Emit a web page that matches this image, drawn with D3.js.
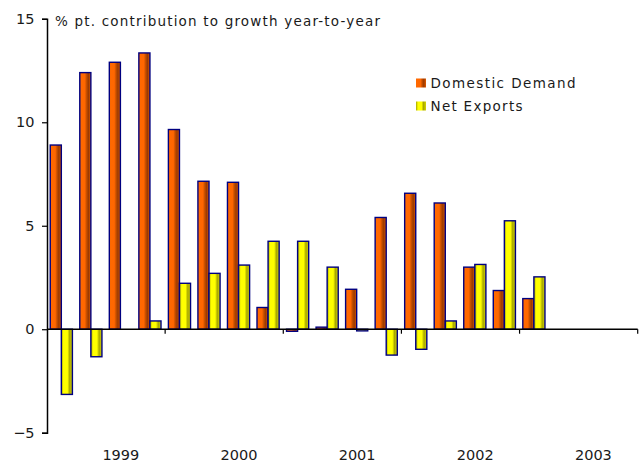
<!DOCTYPE html>
<html>
<head>
<meta charset="utf-8">
<script src="https://cdn.jsdelivr.net/npm/d3@7"></script>
<style>
  html, body { margin: 0; padding: 0; background: #fff; }
  svg { display: block; }
  text { font-family: "DejaVu Sans", Verdana, sans-serif; fill: #1a1a1a; }
</style>
</head>
<body>
<svg id="chart" width="642" height="461"></svg>
<script>
// ---- data ----
const quarters = ["1998Q3","1998Q4","1999Q1","1999Q2","1999Q3","1999Q4","2000Q1","2000Q2",
                  "2000Q3","2000Q4","2001Q1","2001Q2","2001Q3","2001Q4","2002Q1","2002Q2",
                  "2002Q3","2002Q4","2003Q1","2003Q2"];
const domesticDemand = [8.9, 12.4, 12.9, 13.35, 9.65, 7.15, 7.1, 1.05, -0.1, 0.1, 1.93, 5.4, 6.57, 6.1, 3.0, 1.87, 1.48];
const netExports     = [-3.15, -1.33, 0.0, 0.4, 2.22, 2.7, 3.1, 4.25, 4.25, 3.0, -0.08, -1.25, -0.97, 0.4, 3.13, 5.24, 2.53];
const yTicks = [-5, 0, 5, 10, 15];
const yearLabels = ["1999", "2000", "2001", "2002", "2003"];
const yearLabelQuarters = ["1999Q1", "2000Q1", "2001Q1", "2002Q1", "2003Q1"];
const tickQuarters = ["1999Q3", "2000Q3", "2001Q3", "2002Q3"];
const seriesNames = ["Domestic Demand", "Net Exports"];
const yAxisTitle = "% pt. contribution to growth year-to-year";

// ---- layout ----
const svg = d3.select("#chart");
const plotLeft = 47, plotRight = 637.7, plotTop = 18.8, plotBottom = 432.7;

const x = d3.scaleBand().domain(quarters).range([plotLeft, plotRight]).paddingInner(0).paddingOuter(0);
const y = d3.scaleLinear().domain([-5, 15]).range([plotBottom, plotTop]);
const bw = x.bandwidth();

// gradients
const defs = svg.append("defs");
const gO = defs.append("linearGradient").attr("id", "gOrange").attr("x1", 0).attr("x2", 1).attr("y1", 0).attr("y2", 0);
[[0, "#ff6a00"], [0.45, "#ff6600"], [0.62, "#c24d00"], [0.78, "#9c3a00"], [1, "#e05a00"]]
  .forEach(([o, c]) => gO.append("stop").attr("offset", o).attr("stop-color", c));
const gY = defs.append("linearGradient").attr("id", "gYellow").attr("x1", 0).attr("x2", 1).attr("y1", 0).attr("y2", 0);
[[0, "#a3a300"], [0.2, "#ffff00"], [0.55, "#ffff00"], [0.75, "#a8a800"], [1, "#d6d600"]]
  .forEach(([o, c]) => gY.append("stop").attr("offset", o).attr("stop-color", c));

// bars
const barW = bw * 0.375;
const offO = bw * 0.11;
const series = [
  { values: domesticDemand, fill: "url(#gOrange)", off: offO },
  { values: netExports, fill: "url(#gYellow)", off: offO + barW }
];
series.forEach(s => {
  svg.append("g").selectAll("rect")
    .data(s.values)
    .join("rect")
    .attr("x", (d, i) => x(quarters[i]) + s.off)
    .attr("width", barW)
    .attr("y", d => y(Math.max(0, d)))
    .attr("height", d => Math.abs(y(d) - y(0)))
    .attr("fill", s.fill)
    .attr("stroke", "#000080")
    .attr("stroke-width", 1.4);
});

// y axis
const yAxis = svg.append("g")
  .attr("transform", `translate(${plotLeft},0)`)
  .call(d3.axisLeft(y).tickValues(yTicks).tickSize(5).tickSizeOuter(5).tickPadding(7.5).tickFormat(d3.format("d")));
yAxis.select(".domain").attr("stroke", "#000").attr("stroke-width", 1.5);
yAxis.selectAll(".tick line").attr("stroke", "#000").attr("stroke-width", 1.2);
yAxis.selectAll(".tick text").style("font-size", "14.5px").style("font-family", "DejaVu Sans").attr("fill", "#1a1a1a");

// x axis line
svg.append("line")
  .attr("x1", plotLeft).attr("x2", plotRight)
  .attr("y1", y(0)).attr("y2", y(0))
  .attr("stroke", "#000").attr("stroke-width", 1.5);
// x tick marks at year boundaries
const tickXs = tickQuarters.map(q => x(q)).concat([plotRight]);
svg.append("g").selectAll("line")
  .data(tickXs)
  .join("line")
  .attr("x1", d => d).attr("x2", d => d)
  .attr("y1", y(0)).attr("y2", y(0) + 4.5)
  .attr("stroke", "#000").attr("stroke-width", 1.2);

// x labels
svg.append("g").selectAll("text")
  .data(yearLabels)
  .join("text")
  .attr("x", (d, i) => x(yearLabelQuarters[i]) + bw / 2)
  .attr("y", 459.5)
  .attr("text-anchor", "middle")
  .style("font-size", "14.5px")
  .text(d => d);

// axis title
svg.append("text")
  .attr("x", 55).attr("y", 25.5)
  .style("font-size", "13.5px")
  .attr("textLength", 325).attr("lengthAdjust", "spacing")
  .text(yAxisTitle);

// legend
const legend = svg.append("g");
const legFills = ["url(#gOrange)", "url(#gYellow)"];
const legY = [78.5, 101.5];
const legW = [145, 92];
seriesNames.forEach((n, i) => {
  legend.append("rect")
    .attr("x", 416).attr("y", legY[i]).attr("width", 10).attr("height", 9)
    .attr("fill", legFills[i]);
  legend.append("text")
    .attr("x", 430.5).attr("y", legY[i] + 9.5)
    .style("font-size", "13.5px")
    .attr("textLength", legW[i]).attr("lengthAdjust", "spacing")
    .text(n);
});
</script>
</body>
</html>
